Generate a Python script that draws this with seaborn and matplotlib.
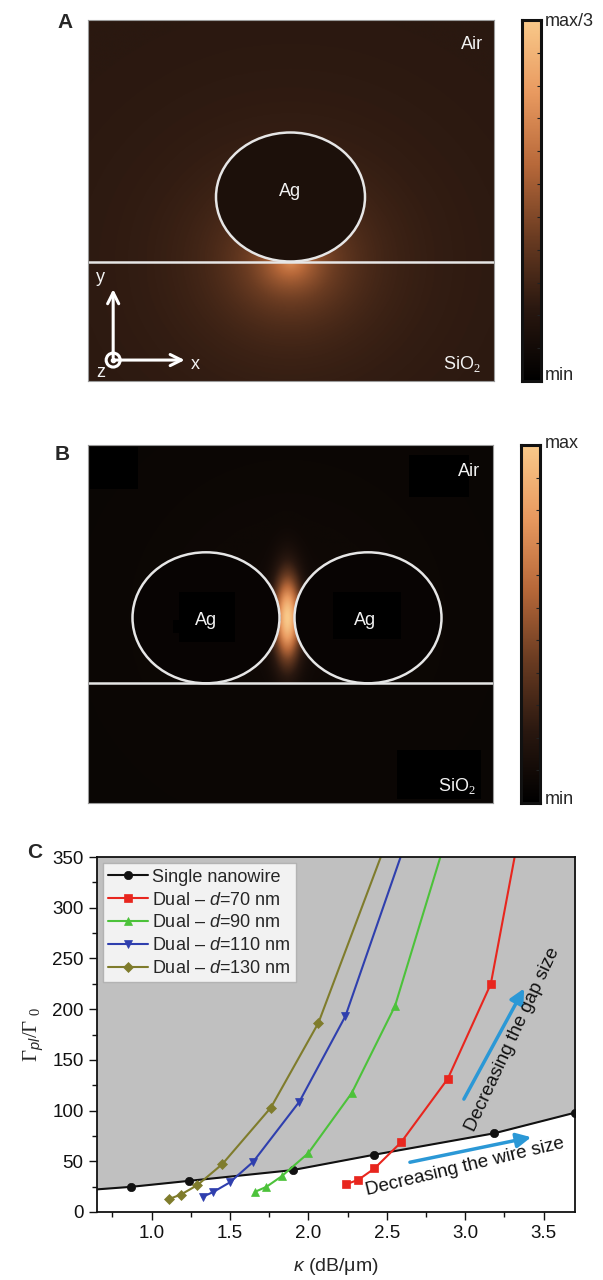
import numpy as np
import matplotlib
matplotlib.use("Agg")
import matplotlib.pyplot as plt
import seaborn as sns
from matplotlib.colors import LinearSegmentedColormap
from matplotlib.patches import Circle, Rectangle, Ellipse

# ---------------- Panel C data ----------------
single_x = [0.45, 0.869, 1.239, 1.899, 2.421, 3.185, 3.702]
single_y = [20.0, 24.8, 30.7, 41.3, 56.5, 77.6, 98.0]
d70_x = [2.241, 2.318, 2.421, 2.591, 2.889, 3.163, 3.40]
d70_y = [27.4, 31.7, 42.9, 68.7, 131.4, 224.8, 420.0]
d90_x = [1.658, 1.732, 1.830, 1.998, 2.276, 2.552, 2.94]
d90_y = [19.8, 24.8, 35.3, 57.8, 117.2, 203.0, 400.0]
d110_x = [1.325, 1.394, 1.498, 1.648, 1.943, 2.236, 2.70]
d110_y = [14.9, 19.8, 29.1, 49.5, 108.9, 193.1, 400.0]
d130_x = [1.113, 1.187, 1.291, 1.451, 1.761, 2.064, 2.583]
d130_y = [12.9, 17.2, 26.4, 47.2, 103.0, 186.5, 400.0]

series_labels = ["Single nanowire", "Dual \u2013 $d$=70 nm", "Dual \u2013 $d$=90 nm",
                 "Dual \u2013 $d$=110 nm", "Dual \u2013 $d$=130 nm"]
series_colors = ["#111111", "#e8261e", "#4cc23a", "#2f3fae", "#7f7c2c"]
series_markers = ["o", "s", "^", "v", "D"]

x_ticks = [1.0, 1.5, 2.0, 2.5, 3.0, 3.5]
y_ticks = [0, 50, 100, 150, 200, 250, 300, 350]

sns.set_theme(style="ticks")
plt.rcParams["font.family"] = ["Liberation Sans", "DejaVu Sans"]
plt.rcParams["mathtext.fontset"] = "custom"
plt.rcParams["mathtext.rm"] = "Liberation Serif"
plt.rcParams["mathtext.it"] = "Liberation Sans:italic"
plt.rcParams["mathtext.cal"] = "Liberation Sans"

fig = plt.figure(figsize=(6.03, 12.8), dpi=100)

cmap = LinearSegmentedColormap.from_list(
    "glow", ["#000000", "#2a1810", "#6b3c22", "#b8693a", "#e99a60", "#f9c98a"])

TXT = "#f2f2f2"
FS_IN = 13

def field_axes(rect_px):
    l, t, r, b = rect_px
    W, H = 603.0, 1280.0
    ax = fig.add_axes([l / W, 1 - b / H, (r - l) / W, (b - t) / H])
    return ax, r - l, b - t

def style_cbar(cax):
    cax.set_xticks([])
    cax.yaxis.tick_right()
    cax.set_yticks(np.linspace(0, 1, 12)[1:-1])
    cax.set_yticklabels([])
    cax.tick_params(axis="y", direction="in", length=3, width=0.8, color="#222222")
    for s in cax.spines.values():
        s.set_color("#111111"); s.set_linewidth(2.2)

grad = np.linspace(0, 1, 256).reshape(-1, 1)

# ---------------- Panel A ----------------
axA, wA, hA = field_axes((88, 20, 494, 381))
xs = np.linspace(0, wA, 420)
ys = np.linspace(0, hA, 380)
X, Y = np.meshgrid(xs, ys)
iface_A = hA - 241.5
ewA, ehA = 149, 129
cxA, cyA = 290.5 - 88, iface_A + ehA / 2
r_contact = np.hypot(X - cxA, (Y - iface_A) * 1.1)
fA = 0.19 + 0.06 * np.exp(-r_contact / 180) + 0.5 * np.exp(-r_contact / 40)
inside = ((X - cxA) / (ewA / 2)) ** 2 + ((Y - cyA) / (ehA / 2)) ** 2 < 1
fA[inside] = 0.14
axA.imshow(fA, cmap=cmap, vmin=0, vmax=1, origin="lower", extent=[0, wA, 0, hA],
           aspect="auto", interpolation="bilinear")
axA.add_patch(Ellipse((cxA, cyA), ewA, ehA, fill=False, ec="#e6e6e6", lw=1.8))
axA.axhline(iface_A, color="#e6e6e6", lw=1.8)
axA.text(0.945, 0.955, "Air", transform=axA.transAxes, color=TXT, ha="center", va="top", fontsize=FS_IN)
axA.text(cxA, cyA + 6, "Ag", color=TXT, ha="center", va="center", fontsize=FS_IN)
axA.text(0.92, 0.02, "SiO$_2$", transform=axA.transAxes, color=TXT, ha="center", va="bottom", fontsize=FS_IN)
ox, oy = 0.062, 0.058
axA.annotate("", xy=(ox, 0.262), xytext=(ox, oy), xycoords="axes fraction",
             arrowprops=dict(arrowstyle="->", color="white", lw=2.2, mutation_scale=20))
axA.annotate("", xy=(0.245, oy), xytext=(ox, oy), xycoords="axes fraction",
             arrowprops=dict(arrowstyle="->", color="white", lw=2.2, mutation_scale=20))
axA.add_patch(Circle((ox * wA, oy * hA), 7, fill=False, ec="white", lw=2.2))
axA.plot([ox * wA], [oy * hA], "o", color="white", ms=3)
axA.text(0.031, 0.262, "y", transform=axA.transAxes, color=TXT, fontsize=FS_IN, ha="center", va="bottom")
axA.text(0.252, 0.045, "x", transform=axA.transAxes, color=TXT, fontsize=FS_IN, ha="left", va="center")
axA.text(0.031, 0.0, "z", transform=axA.transAxes, color=TXT, fontsize=FS_IN, ha="center", va="bottom")
axA.set_xlim(0, wA); axA.set_ylim(0, hA)
axA.set_xticks([]); axA.set_yticks([])
for s in axA.spines.values():
    s.set_color("#9a9a9a"); s.set_linewidth(0.8)
fig.text(65 / 603, 1 - 22 / 1280, "A", fontsize=15, fontweight="bold", ha="center", va="center")

caxA = fig.add_axes([522 / 603, 1 - 381 / 1280, 19 / 603, 361 / 1280])
caxA.imshow(grad, cmap=cmap, aspect="auto", origin="lower", extent=[0, 1, 0, 1])
style_cbar(caxA)
fig.text(545 / 603, 1 - 22 / 1280, "max/3", fontsize=FS_IN, ha="left", va="center")
fig.text(545 / 603, 1 - 376 / 1280, "min", fontsize=FS_IN, ha="left", va="center")

# ---------------- Panel B ----------------
axB, wB, hB = field_axes((88, 445, 493, 803))
xs = np.linspace(0, wB, 420)
ys = np.linspace(0, hB, 380)
X, Y = np.meshgrid(xs, ys)
iface_B = hB - (683.3 - 445)
ewB, ehB = 147, 131
cx1, cx2 = 206 - 88, 368 - 88
cyB = iface_B + ehB / 2
gx = 0.5 * (cx1 + cx2)
fB = 0.05 + 0.05 * np.exp(-np.hypot(X - gx, Y - cyB) / 90) \
    + 0.9 * np.exp(-((X - gx) / 13) ** 2 - ((Y - cyB) / 42) ** 2)
for cx in (cx1, cx2):
    fB[((X - cx) / (ewB / 2)) ** 2 + ((Y - cyB) / (ehB / 2)) ** 2 < 1] = 0.04
fB[Y < iface_B] = np.minimum(fB[Y < iface_B], 0.055)
axB.imshow(fB, cmap=cmap, vmin=0, vmax=1, origin="lower", extent=[0, wB, 0, hB],
           aspect="auto", interpolation="bilinear")
for (x0, x1, t0, t1) in [(0.005, 0.124, 0.006, 0.122), (0.792, 0.94, 0.027, 0.145),
                         (0.225, 0.363, 0.41, 0.55), (0.210, 0.226, 0.489, 0.525),
                         (0.605, 0.773, 0.41, 0.541), (0.762, 0.97, 0.852, 0.988)]:
    axB.add_patch(Rectangle((x0, 1 - t1), x1 - x0, t1 - t0, transform=axB.transAxes,
                            color="#000000", lw=0))
for cx in (cx1, cx2):
    axB.add_patch(Ellipse((cx, cyB), ewB, ehB, fill=False, ec="#e6e6e6", lw=1.8))
axB.axhline(iface_B, color="#e6e6e6", lw=1.8)
axB.text(0.94, 0.925, "Air", transform=axB.transAxes, color=TXT, ha="center", va="center", fontsize=FS_IN)
axB.text(cx1, cyB - 3, "Ag", color=TXT, ha="center", va="center", fontsize=FS_IN)
axB.text(cx2 - 3, cyB - 3, "Ag", color=TXT, ha="center", va="center", fontsize=FS_IN)
axB.text(0.91, 0.02, "SiO$_2$", transform=axB.transAxes, color=TXT, ha="center", va="bottom", fontsize=FS_IN)
axB.set_xlim(0, wB); axB.set_ylim(0, hB)
axB.set_xticks([]); axB.set_yticks([])
for s in axB.spines.values():
    s.set_color("#9a9a9a"); s.set_linewidth(0.8)
fig.text(62 / 603, 1 - 455 / 1280, "B", fontsize=15, fontweight="bold", ha="center", va="center")

caxB = fig.add_axes([521 / 603, 1 - 803 / 1280, 19 / 603, 358 / 1280])
caxB.imshow(grad, cmap=cmap, aspect="auto", origin="lower", extent=[0, 1, 0, 1])
style_cbar(caxB)
fig.text(545 / 603, 1 - 443 / 1280, "max", fontsize=FS_IN, ha="left", va="center")
fig.text(545 / 603, 1 - 800 / 1280, "min", fontsize=FS_IN, ha="left", va="center")

# ---------------- Panel C ----------------
axC = fig.add_axes([96.7 / 603, 1 - 1212 / 1280, (575 - 96.7) / 603, (1212 - 857) / 1280])
axC.fill_between(single_x, single_y, 400, color="#c0c0c0", lw=0, zorder=0)
all_x = [single_x, d70_x, d90_x, d110_x, d130_x]
all_y = [single_y, d70_y, d90_y, d110_y, d130_y]
for xv, yv, lab, col, mk in zip(all_x, all_y, series_labels, series_colors, series_markers):
    sns.lineplot(x=xv, y=yv, ax=axC, color=col, marker=mk, label=lab, sort=False,
                 estimator=None, lw=1.5, markersize=6 if mk != "D" else 5,
                 markeredgecolor=col, markeredgewidth=0.5)

axC.set_xlim(0.65, 3.70)
axC.set_ylim(0, 350)
axC.set_xticks(x_ticks)
axC.set_xticklabels([f"{v:.1f}" for v in x_ticks])
axC.set_yticks(y_ticks)
axC.set_xticks(np.arange(0.75, 3.7, 0.25), minor=True)
axC.set_yticks(np.arange(25, 350, 25), minor=True)
axC.tick_params(axis="both", which="major", direction="out", length=6, width=1,
                labelsize=13.5, colors="#111111")
axC.tick_params(axis="both", which="minor", direction="out", length=3.5, width=1, color="#111111")
for s in axC.spines.values():
    s.set_color("#111111"); s.set_linewidth(1.3)
axC.set_xlabel("$\\kappa$ (dB/\u03bcm)", fontsize=14, labelpad=10)
axC.set_ylabel("$\\Gamma_{pl}/\\Gamma_{\\ 0}$", fontsize=15, labelpad=4)

leg = axC.legend(loc="upper left", fontsize=13, frameon=True, fancybox=False,
                 handlelength=2.2, handletextpad=0.2, borderpad=0.3, labelspacing=0.32,
                 borderaxespad=0.35)
leg.get_frame().set_edgecolor("#aaaaaa")
leg.get_frame().set_linewidth(1.0)

arrow_col = "#2b98d6"
axC.annotate("", xy=(3.384, 222.8), xytext=(2.983, 108.9),
             arrowprops=dict(arrowstyle="-|>", color=arrow_col, lw=2.5, mutation_scale=22))
axC.annotate("", xy=(3.438, 74.3), xytext=(2.630, 48.5),
             arrowprops=dict(arrowstyle="-|>", color=arrow_col, lw=2.5, mutation_scale=22))
axC.text(3.30, 170, "Decreasing the gap size", rotation=65, rotation_mode="anchor",
         ha="center", va="center", fontsize=13.5, color="#111111")
axC.text(3.0, 44.0, "Decreasing the wire size", rotation=13.5, rotation_mode="anchor",
         ha="center", va="center", fontsize=13.5, color="#111111")
fig.text(35 / 603, 1 - 852 / 1280, "C", fontsize=15, fontweight="bold", ha="center", va="center")

fig.savefig("out.png", dpi=100, facecolor="white")
